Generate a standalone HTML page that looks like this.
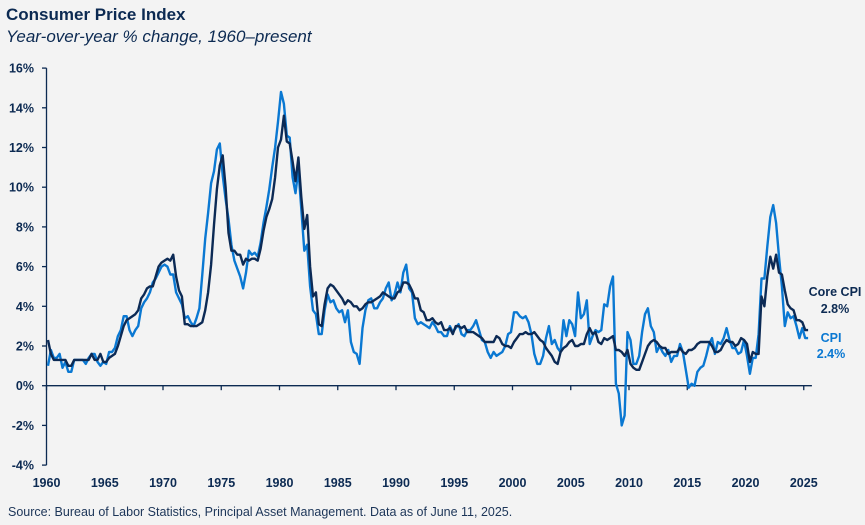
<!DOCTYPE html>
<html><head><meta charset="utf-8">
<style>
body{margin:0;background:#f3f3f3;}
#wrap{position:relative;width:865px;height:525px;background:#f3f3f3;font-family:"Liberation Sans",sans-serif;color:#0c2a52;overflow:hidden}
.t{position:absolute;white-space:nowrap}
</style></head><body>
<div id="wrap">
<div class="t" style="left:6px;top:5px;font-size:17px;font-weight:bold;">Consumer Price Index</div>
<div class="t" style="left:6px;top:27px;font-size:17px;font-style:italic;">Year-over-year % change, 1960–present</div>
<svg id="chart" width="865" height="525" style="position:absolute;left:0;top:0"></svg>
<div class="t" style="left:8px;top:505px;font-size:12.5px;color:#1c3558;">Source: Bureau of Labor Statistics, Principal Asset Management. Data as of June 11, 2025.</div>
</div>
<script>
const yTicks=[-4,-2,0,2,4,6,8,10,12,14,16];
const xTicks=[1960,1965,1970,1975,1980,1985,1990,1995,2000,2005,2010,2015,2020,2025];
const startYear=1960;
const cpi=[1.0,1.8,1.4,1.4, 1.6,0.9,1.2,0.7, 0.7,1.3,1.3,1.3, 1.3,1.1,1.4,1.6, 1.6,1.2,1.0,1.2, 1.1,1.7,1.7,1.9,
2.5,2.8,3.5,3.5, 2.8,2.5,2.8,3.0, 3.9,4.2,4.4,4.7, 5.2,5.4,5.7,6.0, 6.1,6.0,5.6,5.6, 4.7,4.4,4.1,3.4,
3.5,3.2,3.0,3.4, 3.9,5.6,7.4,8.7, 10.2,10.8,11.9,12.2, 10.6,9.4,8.4,7.1, 6.3,5.9,5.5,4.9, 5.7,6.8,6.6,6.7,
6.5,7.2,8.2,9.0, 9.9,11.0,12.0,13.3, 14.8,14.2,12.6,12.5, 10.5,9.7,10.9,8.9, 6.8,7.1,5.0,3.8, 3.6,2.6,2.6,3.8,
4.6,4.2,4.3,3.9, 3.7,3.8,3.2,3.8, 2.2,1.7,1.6,1.1, 2.9,3.8,4.3,4.4, 3.9,3.9,4.2,4.4, 4.9,5.2,4.3,4.6,
5.2,4.7,5.7,6.1, 4.9,4.7,3.4,3.1, 3.2,3.1,3.0,2.9, 3.2,3.0,2.7,2.7, 2.5,2.5,3.0,2.7, 2.9,3.1,2.6,2.5,
2.8,2.8,3.0,3.3, 2.8,2.3,2.2,1.7, 1.4,1.7,1.5,1.6, 1.7,2.0,2.6,2.7, 3.7,3.7,3.5,3.4, 3.5,3.2,2.6,1.6,
1.1,1.1,1.5,2.4, 3.0,2.1,2.3,1.9, 1.7,3.3,2.5,3.3, 3.1,2.5,4.7,3.4, 3.6,4.3,2.1,2.5, 2.8,2.7,2.8,4.1,
4.0,5.0,5.5,0.1, -0.4,-2.0,-1.5,2.7, 2.3,1.1,1.1,1.5, 2.7,3.6,3.9,3.0, 2.7,1.7,2.0,1.7, 1.5,1.8,1.2,1.5,
1.5,2.1,1.7,0.8, -0.1,0.1,0.0,0.7, 0.9,1.0,1.5,2.1, 2.4,1.6,2.2,2.1, 2.4,2.9,2.3,1.9, 1.9,1.6,1.7,2.3,
1.5,0.6,1.4,1.4, 2.6,5.4,5.4,7.0, 8.5,9.1,8.2,6.5, 5.0,3.0,3.7,3.4, 3.5,3.0,2.4,2.9, 2.4,2.4];
const core=[2.3,1.6,1.3,1.3, 1.3,1.3,1.3,1.0, 1.0,1.3,1.3,1.3, 1.3,1.3,1.3,1.6, 1.3,1.3,1.6,1.2, 1.2,1.4,1.5,1.6,
2.0,2.5,3.0,3.3, 3.4,3.5,3.6,3.8, 4.4,4.6,4.9,5.0, 5.0,5.5,6.0,6.2, 6.3,6.4,6.3,6.6, 5.5,4.8,4.5,3.1,
3.1,3.0,3.0,3.0, 3.1,3.2,3.8,4.7, 6.1,8.1,9.9,11.1, 11.6,10.0,7.7,6.8, 6.8,6.6,6.6,6.1, 6.4,6.3,6.4,6.4,
6.3,6.9,7.8,8.5, 8.9,9.4,10.5,12.0, 12.4,13.6,12.3,12.2, 11.3,10.3,11.5,9.5, 7.9,8.6,6.0,4.5, 4.7,3.1,3.0,4.1,
4.9,5.1,5.0,4.8, 4.6,4.4,4.1,4.3, 4.2,4.0,4.0,3.8, 3.9,4.1,4.2,4.2, 4.3,4.4,4.5,4.7, 4.6,4.5,4.4,4.4,
4.7,4.8,5.2,5.2, 5.1,4.8,4.4,4.4, 3.8,3.7,3.3,3.3, 3.4,3.2,3.1,3.2, 2.8,2.8,2.9,2.6, 3.0,3.0,2.9,3.0,
2.7,2.7,2.7,2.6, 2.5,2.4,2.2,2.2, 2.2,2.2,2.5,2.4, 2.1,2.0,2.0,1.9, 2.2,2.4,2.6,2.6, 2.7,2.6,2.6,2.7,
2.5,2.3,2.2,1.9, 1.7,1.5,1.2,1.1, 1.7,1.9,2.0,2.2, 2.3,2.0,2.0,2.1, 2.1,2.6,2.9,2.6, 2.7,2.2,2.1,2.4,
2.3,2.4,2.5,1.8, 1.8,1.7,1.5,1.8, 1.1,0.9,0.8,0.8, 1.2,1.6,2.0,2.2, 2.3,2.2,2.0,1.9, 1.9,1.6,1.7,1.7,
1.7,1.9,1.7,1.6, 1.8,1.8,1.9,2.1, 2.2,2.2,2.2,2.2, 2.0,1.7,1.7,1.8, 2.1,2.3,2.2,2.2, 2.0,2.1,2.4,2.3,
2.1,1.2,1.7,1.6, 1.6,4.5,4.0,5.5, 6.5,5.9,6.6,5.7, 5.6,4.8,4.1,3.9, 3.8,3.3,3.3,3.2, 2.8,2.8];

const NS="http://www.w3.org/2000/svg";
const svg=document.getElementById('chart');
const x=yr=>46.5+(yr-1960)*11.65;
const y=v=>385.7-v*19.85;
function mk(tag,attrs){const e=document.createElementNS(NS,tag);for(const k in attrs)e.setAttribute(k,attrs[k]);svg.appendChild(e);return e;}
const axisCol="#0c2a52";
let ya=mk('line',{x1:46.5,y1:y(16),x2:46.5,y2:y(-4),stroke:axisCol,'stroke-width':1.3});


yTicks.forEach(v=>{
  const tk=mk('line',{x1:42,y1:y(v),x2:46.5,y2:y(v),stroke:axisCol,'stroke-width':1.3});
  
  
  const t=mk('text',{x:34,y:y(v)+4.5,'text-anchor':'end','font-size':'12.5','font-weight':'bold',fill:axisCol,'font-family':'Liberation Sans, sans-serif'});
  t.textContent=v+'%';
  
  
});
let xa=mk('line',{x1:46.5,y1:y(0),x2:x(2025.7),y2:y(0),stroke:axisCol,'stroke-width':1.3});


xTicks.forEach(yr=>{
  const tk=mk('line',{x1:x(yr),y1:y(0),x2:x(yr),y2:y(0)+4.5,stroke:axisCol,'stroke-width':1.3});
  
  
  const t=mk('text',{x:x(yr),y:487,'text-anchor':'middle','font-size':'12.5','font-weight':'bold',fill:axisCol,'font-family':'Liberation Sans, sans-serif'});
  t.textContent=yr;
  
  
});
function path(arr){return arr.map((v,i)=>(i?'L':'M')+x(startYear+i/4+0.125).toFixed(1)+','+y(v).toFixed(1)).join('');}
const pc=mk('path',{d:path(cpi),fill:'none',stroke:'#0a78d2','stroke-width':2.4,'stroke-linejoin':'round'});


const pk=mk('path',{d:path(core),fill:'none',stroke:'#0c2a55','stroke-width':2.4,'stroke-linejoin':'round'});


function lab(txt,xx,yy,col,name){const t=mk('text',{x:xx,y:yy,'text-anchor':'middle','font-size':'12.5','font-weight':'bold',fill:col,'font-family':'Liberation Sans, sans-serif'});t.textContent=txt;}
lab('Core CPI',835,296,'#0c2a52','core-cpi-label');
lab(core[core.length-1].toFixed(1)+'%',835,313,'#0c2a52','core-cpi-value');
lab('CPI',831,342,'#0a78d2','cpi-label');
lab(cpi[cpi.length-1].toFixed(1)+'%',831,358,'#0a78d2','cpi-value');
</script>
</body></html>
